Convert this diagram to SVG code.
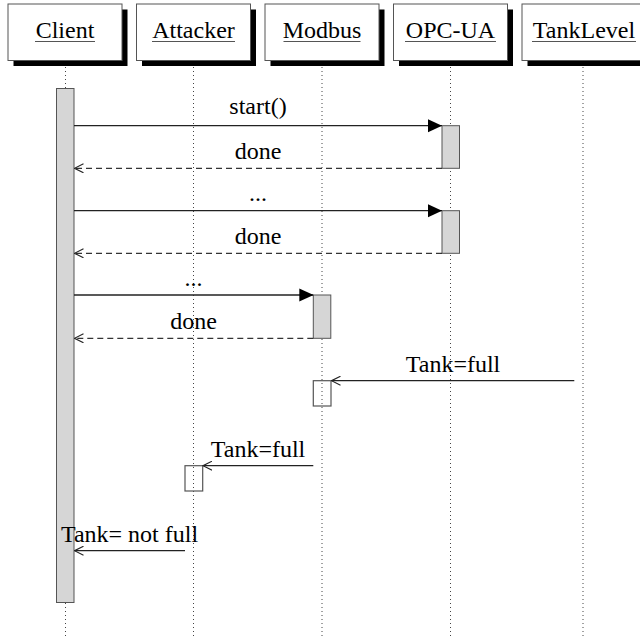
<svg xmlns="http://www.w3.org/2000/svg" width="640" height="639" viewBox="0 0 640 639">
<defs>
<style>
text{font-family:"Liberation Serif","Times New Roman",serif;font-size:24px;fill:#000;text-anchor:middle}
.hd{fill:#fff;stroke:#555;stroke-width:1}
.sh{fill:#000}
.ul{stroke:#555;stroke-width:1.2}
.life{stroke:#444;stroke-width:1;stroke-dasharray:1 3}
.bar{fill:#d6d6d6;stroke:#555;stroke-width:1}
.wbar{fill:none;stroke:#555;stroke-width:1.2}
.call{stroke:#222;stroke-width:1.3;fill:none}
.ret{stroke:#333;stroke-width:1.2;fill:none;stroke-dasharray:6 4}
</style>
<marker id="filled" markerWidth="14" markerHeight="14" viewBox="0 0 14 14" refX="14" refY="7" orient="auto" markerUnits="userSpaceOnUse">
<path d="M0,0.5 L14,7 L0,13.5 Z" fill="#000"/>
</marker>
<marker id="open" markerWidth="10" markerHeight="10" viewBox="0 0 10 10" refX="9" refY="5" orient="auto" markerUnits="userSpaceOnUse">
<path d="M0,0.5 L9,5 L0,9.5" fill="none" stroke="#222" stroke-width="1.1"/>
</marker>
</defs>
<rect width="640" height="639" fill="#fff"/>

<g id="lifelines">
<line class="life" x1="65.5" y1="67" x2="65.5" y2="639"/>
<line class="life" x1="193.5" y1="67" x2="193.5" y2="639"/>
<line class="life" x1="322" y1="67" x2="322" y2="639"/>
<line class="life" x1="450.5" y1="67" x2="450.5" y2="639"/>
<line class="life" x1="583" y1="67" x2="583" y2="639"/>
</g>

<g id="Client">
<rect class="sh" x="13.5" y="9.5" width="114" height="56.5"/>
<rect class="hd" x="8" y="4" width="114" height="56.5"/>
<text x="65" y="37.5">Client</text>
<line class="ul" x1="35" y1="41.5" x2="95" y2="41.5"/>
<rect class="bar" x="56.5" y="88.5" width="17.5" height="514"/>
</g>

<g id="Attacker">
<rect class="sh" x="142" y="9.5" width="114" height="56.5"/>
<rect class="hd" x="136.5" y="4" width="114" height="56.5"/>
<text x="193.5" y="37.5">Attacker</text>
<line class="ul" x1="152" y1="41.5" x2="235" y2="41.5"/>
<rect class="wbar" x="185" y="465.7" width="17.7" height="25.3"/>
</g>

<g id="Modbus">
<rect class="sh" x="270.5" y="9.5" width="114" height="56.5"/>
<rect class="hd" x="265" y="4" width="114" height="56.5"/>
<text x="322" y="37.5">Modbus</text>
<line class="ul" x1="283.5" y1="41.5" x2="360.5" y2="41.5"/>
<rect class="bar" x="313.3" y="295" width="17.5" height="43.3"/>
<rect class="wbar" x="313.3" y="380.7" width="17.7" height="25.3"/>
</g>

<g id="OPC-UA">
<rect class="sh" x="399" y="9.5" width="114" height="56.5"/>
<rect class="hd" x="393.5" y="4" width="114" height="56.5"/>
<text x="450.5" y="37.5">OPC-UA</text>
<line class="ul" x1="405" y1="41.5" x2="496" y2="41.5"/>
<rect class="bar" x="442" y="125.7" width="17.5" height="42.6"/>
<rect class="bar" x="442" y="210.7" width="17.5" height="42.6"/>
</g>

<g id="TankLevel">
<rect class="sh" x="527.5" y="9.5" width="124" height="56.5"/>
<rect class="hd" x="522" y="4" width="124" height="56.5"/>
<text x="584" y="37.5">TankLevel</text>
<line class="ul" x1="532" y1="41.5" x2="636" y2="41.5"/>
</g>

<g id="connectors">
<line class="call" x1="74" y1="125.7" x2="442" y2="125.7" marker-end="url(#filled)"/>
<text x="258" y="113.5">start()</text>
<line class="ret" x1="442" y1="168.3" x2="74.5" y2="168.3" marker-end="url(#open)"/>
<text x="258" y="158.5">done</text>

<line class="call" x1="74" y1="210.7" x2="442" y2="210.7" marker-end="url(#filled)"/>
<text x="258" y="200.5">...</text>
<line class="ret" x1="442" y1="253.3" x2="74.5" y2="253.3" marker-end="url(#open)"/>
<text x="258" y="243.5">done</text>

<line class="call" x1="74" y1="295" x2="313.3" y2="295" marker-end="url(#filled)"/>
<text x="193.5" y="285.5">...</text>
<line class="ret" x1="313.3" y1="338.3" x2="74.5" y2="338.3" marker-end="url(#open)"/>
<text x="193.5" y="329">done</text>

<line class="call" x1="574.3" y1="380.7" x2="331.5" y2="380.7" marker-end="url(#open)"/>
<text x="453" y="371.7">Tank=full</text>

<line class="call" x1="313.3" y1="465.7" x2="203" y2="465.7" marker-end="url(#open)"/>
<text x="258" y="456.7">Tank=full</text>

<line class="call" x1="185" y1="550.7" x2="74.5" y2="550.7" marker-end="url(#open)"/>
<text x="129.5" y="541.7">Tank= not full</text>
</g>
</svg>
